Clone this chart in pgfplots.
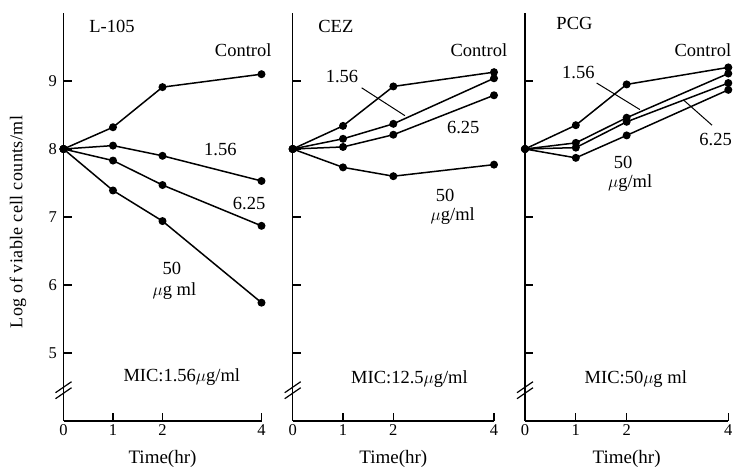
\documentclass[border=0pt]{standalone}
\usepackage{fontspec}
\setmainfont{Liberation Serif}
\newfontfamily\spaced[LetterSpace=2.2]{Liberation Serif}
\usepackage{pgfplots}
\pgfplotsset{compat=1.18}

\newcommand{\lab}{\fontsize{18.5}{21}\selectfont}

\pgfplotsset{
  panel/.style={
    scale only axis,
    height=408pt,
    xmin=0, xmax=4, ymin=4, ymax=10,
    axis x line=bottom, axis y line=left,
    axis line style={-, line width=1.3pt},
    xtick={0,1,2,4}, ytick={5,6,7,8,9},
    tick align=inside, major tick length=8pt,
    tick style={line width=1.2pt, black},
    ticklabel style={font=\fontsize{16.5}{19}\selectfont},
    yticklabel style={xshift=-3pt},
    /pgf/number format/assume math mode=true,
    xlabel={Time(hr)},
    xlabel style={at={(axis description cs:0.5,0)}, anchor=center, yshift=-38pt, font=\fontsize{19}{22}\selectfont},
    clip=false,
  },
  dat/.style={black, line width=1.5pt, mark=*, mark size=3.2pt, mark options={solid, fill=black}},
}

\newcommand{\brk}{%
  \draw[line width=1.2pt] ([xshift=-8pt,yshift=-9pt]axis cs:0,4.46) -- ([xshift=8pt,yshift=2pt]axis cs:0,4.46);
  \draw[line width=1.2pt] ([xshift=-8pt,yshift=-3pt]axis cs:0,4.46) -- ([xshift=8pt,yshift=8pt]axis cs:0,4.46);
}

\begin{document}
\begin{tikzpicture}
\useasboundingbox (0pt,-50pt) rectangle (734pt,421pt);

% L-105
\begin{axis}[panel, width=198pt, at={(63.5pt,0pt)}, anchor=south west]
\addplot[dat] coordinates {(0,8) (1,8.32) (2,8.91) (4,9.10)};
\addplot[dat] coordinates {(0,8) (1,8.05) (2,7.90) (4,7.53)};
\addplot[dat] coordinates {(0,8) (1,7.83) (2,7.47) (4,6.87)};
\addplot[dat] coordinates {(0,8) (1,7.39) (2,6.94) (4,5.74)};
\brk
\node[font=\lab, anchor=west] at (axis cs:0.45,9.80) {L-105};
\node[font=\lab] at (axis cs:3.63,9.46) {Control};
\node[font=\lab] at (axis cs:3.17,7.99) {1.56};
\node[font=\lab] at (axis cs:3.75,7.20) {6.25};
\node[font=\lab] at (axis cs:2.19,6.24) {50};
\node[font=\lab] at (axis cs:2.24,5.91) {$\mu$g ml};
\node[font=\lab] at (axis cs:2.39,4.65) {MIC:1.56$\mu$g/ml};
\end{axis}

% CEZ
\begin{axis}[panel, width=201.3pt, at={(292.7pt,0pt)}, anchor=south west, yticklabels={}]
\addplot[dat] coordinates {(0,8) (1,8.34) (2,8.92) (4,9.13)};
\addplot[dat] coordinates {(0,8) (1,8.15) (2,8.37) (4,9.04)};
\addplot[dat] coordinates {(0,8) (1,8.03) (2,8.21) (4,8.79)};
\addplot[dat] coordinates {(0,8) (1,7.73) (2,7.60) (4,7.77)};
\brk
\draw[line width=1pt] (axis cs:1.37,8.90) -- (axis cs:2.23,8.49);
\node[font=\lab, anchor=west] at (axis cs:0.44,9.80) {CEZ};
\node[font=\lab] at (axis cs:3.70,9.46) {Control};
\node[font=\lab] at (axis cs:0.98,9.06) {1.56};
\node[font=\lab] at (axis cs:3.39,8.31) {6.25};
\node[font=\lab] at (axis cs:3.03,7.32) {50};
\node[font=\lab] at (axis cs:3.18,7.02) {$\mu$g/ml};
\node[font=\lab] at (axis cs:2.32,4.62) {MIC:12.5$\mu$g/ml};
\end{axis}

% PCG
\begin{axis}[panel, width=203.3pt, at={(525pt,0pt)}, anchor=south west, yticklabels={}]
\addplot[dat] coordinates {(0,8) (1,8.35) (2,8.95) (4,9.20)};
\addplot[dat] coordinates {(0,8) (1,8.09) (2,8.46) (4,9.11)};
\addplot[dat] coordinates {(0,8) (1,8.02) (2,8.40) (4,8.97)};
\addplot[dat] coordinates {(0,8) (1,7.87) (2,8.20) (4,8.87)};
\brk
\draw[line width=1pt] (axis cs:1.41,8.97) -- (axis cs:2.26,8.58);
\draw[line width=1pt] (axis cs:3.68,8.35) -- (axis cs:3.12,8.72);
\node[font=\lab, anchor=west] at (axis cs:0.55,9.84) {PCG};
\node[font=\lab] at (axis cs:3.50,9.46) {Control};
\node[font=\lab] at (axis cs:1.05,9.12) {1.56};
\node[font=\lab] at (axis cs:3.75,8.14) {6.25};
\node[font=\lab] at (axis cs:1.93,7.80) {50};
\node[font=\lab] at (axis cs:2.07,7.50) {$\mu$g/ml};
\node[font=\lab] at (axis cs:2.18,4.62) {MIC:50$\mu$g ml};
\end{axis}

\node[rotate=90, font={\spaced\fontsize{18}{21}\selectfont}] at (18pt,199pt) {Log of viable cell counts/ml};
\end{tikzpicture}
\end{document}
